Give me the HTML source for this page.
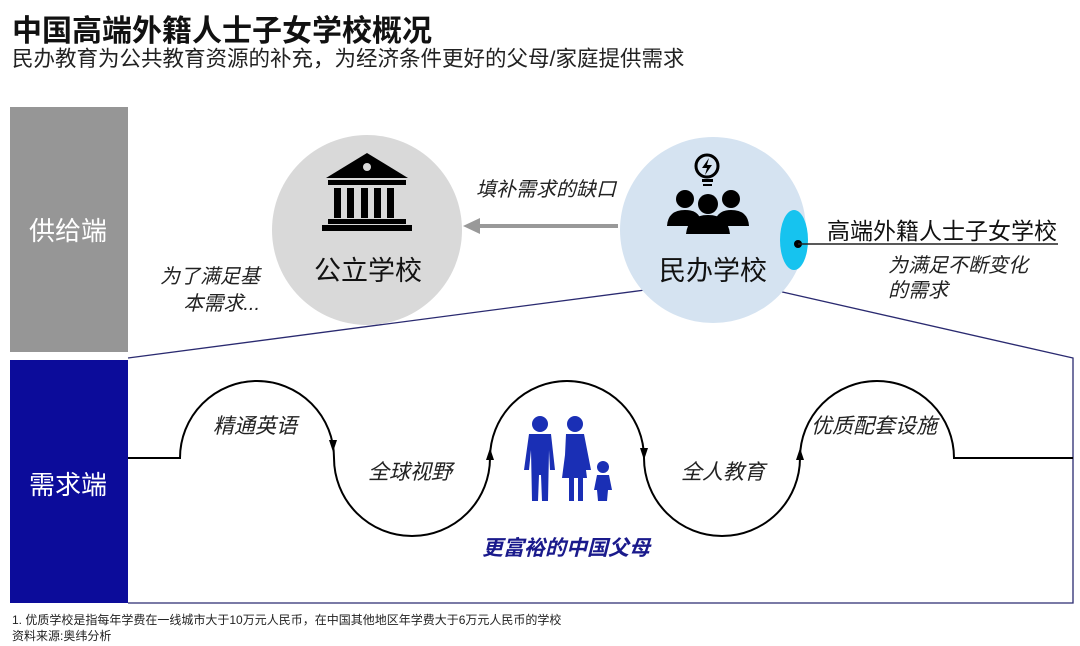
<!DOCTYPE html>
<html><head><meta charset="utf-8"><style>
body{margin:0;width:1080px;height:646px;background:#fff;overflow:hidden;font-family:"Liberation Sans","Noto Sans CJK SC",sans-serif;}
.t{position:absolute;white-space:nowrap;}
</style></head><body>
<div class="t" style="left:12px;top:6px;font-size:30px;font-weight:bold;color:#111;">中国高端外籍人士子女学校概况</div>
<div class="t" style="left:12px;top:42px;font-size:21.5px;color:#222;">民办教育为公共教育资源的补充，为经济条件更好的父母/家庭提供需求</div>
<svg width="1080" height="646" style="position:absolute;left:0;top:0">
<rect x="10" y="107" width="118" height="245" fill="#969696"/>
<rect x="10" y="360" width="118" height="243" fill="#0c0c9a"/>
<path d="M128,358 L645,290 M778,291 L1073,358 L1073,603 L128,603" fill="none" stroke="#2a2a70" stroke-width="1.3"/>
<circle cx="367" cy="230" r="95" fill="#d9d9d9"/>
<circle cx="713" cy="230" r="93" fill="#d5e3f1"/>
<line x1="618" y1="226" x2="478" y2="226" stroke="#999" stroke-width="4"/>
<path d="M463,226 L480,218 L480,234z" fill="#999"/>
<g fill="#000">
<path d="M367,153 L408,178 L326,178z"/><circle cx="367" cy="167" r="4" fill="#d9d9d9"/>
<rect x="328" y="180" width="78" height="5"/>
<rect x="334" y="188" width="7" height="30"/><rect x="347" y="188" width="7" height="30"/><rect x="361" y="188" width="7" height="30"/><rect x="374" y="188" width="7" height="30"/><rect x="387" y="188" width="7" height="30"/>
<rect x="328" y="219" width="78" height="5"/><rect x="322" y="225" width="90" height="6"/>
</g>
<g fill="#000">
<circle cx="707" cy="166" r="11" fill="none" stroke="#000" stroke-width="3"/>
<path d="M709,158 L702,168 L707,168 L705,175 L712,165 L707,165z"/>
<rect x="702" y="179" width="11" height="3"/><rect x="703" y="184" width="9" height="2"/>
<circle cx="685" cy="199" r="9"/><circle cx="731" cy="199" r="9"/><circle cx="708" cy="204" r="10"/>
<path d="M667,226 Q668,210 685,210 Q697,210 700,218 L700,226z"/>
<path d="M716,226 L716,218 Q720,210 731,210 Q748,210 749,226z"/>
<path d="M686,234 Q688,215 708,215 Q728,215 730,234z"/>
</g>
<ellipse cx="794" cy="240" rx="14" ry="30" fill="#16c3ef"/>
<circle cx="798" cy="244" r="4" fill="#000"/>
<line x1="798" y1="244" x2="1058" y2="244" stroke="#222" stroke-width="1.5"/>
<path d="M128,458 L180,458 A77,77 0 0 1 334,458 A78,78 0 0 0 490,458 A77,77 0 0 1 644,458 A78,78 0 0 0 800,458 A77,77 0 0 1 954,458 L1073,458" fill="none" stroke="#000" stroke-width="2"/>
<path d="M329,440 L337,440 L333,452z" fill="#000"/>
<path d="M486,460 L494,460 L490,448z" fill="#000"/>
<path d="M640,448 L648,448 L644,460z" fill="#000"/>
<path d="M796,460 L804,460 L800,448z" fill="#000"/>
<g fill="#1a2fb5">
<circle cx="540" cy="424" r="8"/><circle cx="575" cy="424" r="8"/><circle cx="603" cy="467" r="6"/>
<path d="M529,434 L551,434 L555,470 L550,470 L549,450 L548,501 L542,501 L541,475 L539,475 L538,501 L532,501 L531,450 L529,470 L524,470z"/>
<path d="M566,434 L584,434 L591,470 L586,470 L587,478 L583,478 L583,501 L578,501 L578,478 L574,478 L574,501 L569,501 L569,478 L562,478 L565,455z"/>
<path d="M597,475 L609,475 L612,490 L608,490 L607,501 L603,501 L602,501 L598,501 L597,490 L594,490z"/>
</g>
</svg>
<div class="t" style="left:29px;top:211px;font-size:26px;color:#fff;">供给端</div>
<div class="t" style="left:29px;top:465px;font-size:26px;color:#fff;">需求端</div>
<div class="t" style="left:314px;top:249px;font-size:27px;color:#111;">公立学校</div>
<div class="t" style="left:659px;top:249px;font-size:27px;color:#111;">民办学校</div>
<div class="t" style="left:476px;top:173px;font-size:20px;font-style:italic;color:#222;">填补需求的缺口</div>
<div class="t" style="left:160px;top:264px;font-size:20px;font-style:italic;color:#222;line-height:27px;text-align:right;">为了满足基<br>本需求...</div>
<div class="t" style="left:827px;top:212px;font-size:23px;color:#111;">高端外籍人士子女学校</div>
<div class="t" style="left:888px;top:254px;font-size:20px;font-style:italic;color:#222;line-height:25px;">为满足不断变化<br>的需求</div>
<div class="t" style="left:213px;top:410px;font-size:21px;font-style:italic;color:#222;">精通英语</div>
<div class="t" style="left:368px;top:456px;font-size:21px;font-style:italic;color:#222;">全球视野</div>
<div class="t" style="left:681px;top:456px;font-size:21px;font-style:italic;color:#222;">全人教育</div>
<div class="t" style="left:811px;top:410px;font-size:21px;font-style:italic;color:#222;">优质配套设施</div>
<div class="t" style="left:482px;top:532px;font-size:21px;font-style:italic;font-weight:bold;color:#1a1a8c;">更富裕的中国父母</div>
<div class="t" style="left:12px;top:612px;font-size:12px;color:#222;line-height:16px;">1. 优质学校是指每年学费在一线城市大于10万元人民币，在中国其他地区年学费大于6万元人民币的学校<br>资料来源:奥纬分析</div>
</body></html>
